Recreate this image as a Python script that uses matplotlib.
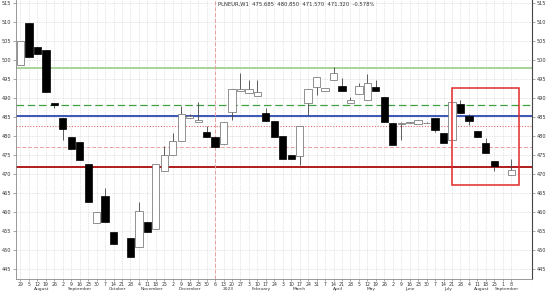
import matplotlib
matplotlib.use('Agg')
import matplotlib.pyplot as plt
import matplotlib.patches as patches
import matplotlib.transforms as mtransforms
import numpy as np
import pandas as pd

# weekly bars, Friday dates
weeks = pd.date_range('2022-07-29', periods=59, freq='7D')
nan = np.nan
opens = [498.7, 509.7, 503.4, 502.6, 488.7, 484.7, 479.7, 478.4, 472.6, 457.1,
         464.2, 454.7, nan, 453.2, 450.8, 457.4, 455.5, 470.8, 475.0, 478.7,
         484.7, 483.7, 481.1, 479.7, 477.9, 486.3, 491.8, 491.3, 490.5, 486.1,
         483.9, 480.0, 475.0, 474.7, 488.7, 492.9, 491.8, 494.7, 493.2, 488.7,
         491.1, 489.5, 492.9, 490.3, 483.4, 483.2, 483.4, 483.2, 483.4, 484.7,
         480.8, 478.9, 488.4, 485.3, 481.4, 478.2, 473.4, nan, 469.7]
highs = [505.0, 509.7, 503.4, 502.6, 488.7, 484.7, 479.7, 478.4, 472.6, 460.0,
         466.3, 454.7, nan, 453.2, 462.6, 457.4, 472.6, 477.4, 480.8, 487.9,
         485.8, 488.9, 482.6, 479.7, 483.7, 492.4, 496.6, 494.7, 494.7, 487.4,
         483.9, 480.0, 475.0, 482.6, 492.4, 495.5, 492.6, 498.2, 495.3, 490.3,
         494.0, 496.3, 494.7, 490.3, 483.4, 483.6, 483.7, 484.2, 483.6, 484.7,
         480.8, 488.9, 489.5, 485.8, 481.4, 479.5, 473.4, nan, 473.9]
lows = [498.7, 500.8, 501.6, 491.6, 487.4, 478.9, 476.6, 473.7, 462.6, 457.1,
        457.4, 451.6, nan, 448.2, 450.8, 454.7, 455.5, 470.8, 475.0, 478.7,
        484.7, 483.7, 479.7, 477.1, 477.9, 484.2, 491.8, 491.3, 490.5, 483.9,
        479.7, 473.9, 473.9, 472.4, 485.5, 490.8, 491.8, 494.7, 491.8, 488.7,
        491.1, 489.5, 491.8, 483.7, 477.6, 478.9, 483.4, 483.2, 483.4, 481.1,
        478.2, 478.9, 486.1, 482.9, 479.7, 475.5, 470.8, nan, 469.7]
closes = [505.0, 500.8, 501.6, 491.6, 488.2, 481.8, 476.6, 473.7, 462.6, 460.0,
          457.4, 451.6, nan, 448.2, 460.3, 454.7, 472.6, 475.0, 478.7, 485.8,
          485.3, 484.2, 479.7, 477.1, 483.7, 492.4, 492.4, 492.4, 491.6, 483.9,
          479.7, 473.9, 473.9, 482.6, 492.4, 495.5, 492.6, 496.6, 491.8, 489.5,
          493.2, 494.0, 491.8, 483.7, 477.6, 483.4, 483.7, 484.2, 483.5, 481.6,
          478.2, 488.9, 486.1, 483.9, 479.7, 475.5, 472.1, nan, 471.1]

# horizontal levels
level_values = [498.0, 488.2, 485.2, 482.55, 477.2, 471.8]
level_colors = ['#a9d39a', '#3fa03f', '#3a56b8', '#e07070', '#eaa0a0', '#b01c1c']
level_styles = ['-', (0, (6, 3)), '-', (0, (1, 1.5)), (0, (4, 2)), '-']
level_widths = [1.4, 0.9, 1.4, 0.8, 0.7, 1.4]

box_dates = ('2023-07-21', '2023-09-15')
box_prices = (467.1, 492.6)

title_text = 'PLNEUR,W1  475.685  480.850  471.570  471.320  -0.578%'
y_ticks = list(range(445, 516, 5))

fig = plt.figure(figsize=(5.5, 2.91), dpi=100)
ax = fig.add_axes([16 / 550, 12 / 291, 516 / 550, 279 / 291])

idx = np.arange(len(weeks))
o = np.array(opens); h = np.array(highs); l = np.array(lows); c = np.array(closes)
ok = ~np.isnan(o)
up = ok & (c >= o)
dn = ok & (c < o)

ax.vlines(idx[ok], l[ok], h[ok], color='#444444', lw=0.6, zorder=3)
w = 0.86
ax.bar(idx[dn], (o - c)[dn], bottom=c[dn], width=w, color='black',
       edgecolor='black', lw=0.5, zorder=4)
ax.bar(idx[up], np.maximum((c - o)[up], 0.05), bottom=o[up], width=w,
       color='white', edgecolor='#666666', lw=0.5, zorder=4)

for v, col, ls, lw in zip(level_values, level_colors, level_styles, level_widths):
    ax.axhline(v, color=col, ls=ls, lw=lw, zorder=2)

# year divider
jan = np.searchsorted(weeks, pd.Timestamp('2023-01-01'))
ax.axvline(jan, color='#e8a0a0', ls=(0, (4, 2)), lw=0.7, zorder=2)

# highlighted box
x0 = np.searchsorted(weeks, pd.Timestamp(box_dates[0]))
x1 = np.searchsorted(weeks, pd.Timestamp(box_dates[1]))
ax.add_patch(patches.Rectangle((x0 - 0.02, box_prices[0]), x1 - x0,
                               box_prices[1] - box_prices[0], fill=False,
                               edgecolor='#e02a2a', lw=1.1, zorder=5))

ax.set_xlim(-0.53, 60.46)
ax.set_ylim(442.4, 515.8)

ax.set_xticks(idx)
ax.set_xticklabels([str(d.day) for d in weeks], fontsize=3.3, color='#333333')
ax.set_yticks(y_ticks)
ax.set_yticklabels([str(v) for v in y_ticks], fontsize=3.6, color='#333333')
ax.tick_params(axis='x', length=1.5, pad=0.4, width=0.4, color='#666666')
ax.tick_params(axis='y', length=2, pad=1.5, width=0.4, color='#666666',
               left=True, right=True, labelleft=True, labelright=True)
ax.grid(True, color='#cccccc', ls=(0, (1, 1.5)), lw=0.5, zorder=0)
for side in ['left', 'bottom']:
    ax.spines[side].set_color('#888888')
    ax.spines[side].set_linewidth(0.6)
ax.spines['right'].set_color('#444444')
ax.spines['right'].set_linewidth(0.8)
ax.spines['top'].set_visible(False)

# month labels under the day numbers
trans = mtransforms.blended_transform_factory(ax.transData, ax.transAxes)
months = weeks.to_period('M')
for m in months.unique():
    sel = idx[months == m]
    if len(sel) < 2:
        continue
    name = '2023' if (m.month == 1 and m.year == 2023) else m.strftime('%B')
    ax.text(sel.mean(), -0.029, name, transform=trans, fontsize=3.2,
            color='#333333', ha='center', va='top', clip_on=False)

ax.text(0.392, 0.983, title_text, transform=ax.transAxes, fontsize=3.8,
        color='#333333', ha='left', va='center')

fig.savefig('out.png', dpi=100)
